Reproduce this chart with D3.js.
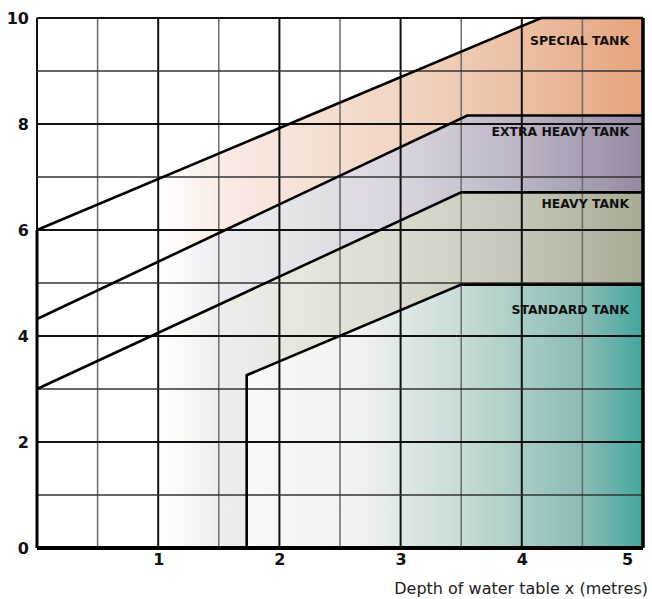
<!DOCTYPE html>
<html>
<head>
<meta charset="utf-8">
<script src="https://cdn.jsdelivr.net/npm/d3@7"></script>
<style>
  html, body { margin: 0; padding: 0; background: #fff; }
  svg { display: block; }
</style>
</head>
<body>
<svg id="chart" width="652" height="599"></svg>
<script>
// Tank class boundaries: upper edge of each band, as [depth x (m), value] points
const standardTop   = [[1.73, 0], [1.73, 3.26], [3.5, 4.97], [5, 4.97]];
const heavyTop      = [[0, 3], [3.5, 6.71], [5, 6.71]];
const extraHeavyTop = [[0, 4.32], [3.55, 8.16], [5, 8.16]];
const specialTop    = [[0, 6], [4.16, 10], [5, 10]];

const bandNames = ["STANDARD TANK", "HEAVY TANK", "EXTRA HEAVY TANK", "SPECIAL TANK"];
// vertical anchor of each band's label (value units)
const bandLabelY = [4.49, 6.49, 7.85, 9.58];

const xTicks = [1, 2, 3, 4, 5];
const yTicks = [0, 2, 4, 6, 8, 10];
const xTitle = "Depth of water table x (metres)";

const x = d3.scaleLinear().domain([0, 5]).range([37, 643]);
const y = d3.scaleLinear().domain([0, 10]).range([548, 18]);

const svg = d3.select("#chart");
const defs = svg.append("defs");
const FONT = "'DejaVu Sans', Verdana, sans-serif";

// lower edge of each band is the upper edge of the band below it
const bands = [
  { name: bandNames[0], lower: [[1.73, 0], [5, 0]], upper: standardTop, labelY: bandLabelY[0],
    stops: [[1.73, "#f9f9f7"], [2.6, "#f1f3f1"], [3, "#e0e9e7"], [3.5, "#c8dbd8"], [4, "#a9cbc6"], [4.5, "#8cbcb6"], [5, "#44a69e"]] },
  { name: bandNames[1], lower: [[0, 0]].concat(standardTop), upper: heavyTop, labelY: bandLabelY[1],
    stops: [[1, "#ffffff"], [1.5, "#efefea"], [3, "#dadbd0"], [4, "#c4c5b5"], [5, "#a8aa95"]] },
  { name: bandNames[2], lower: heavyTop, upper: extraHeavyTop, labelY: bandLabelY[2],
    stops: [[1, "#ffffff"], [1.5, "#efedf2"], [3, "#d9d4de"], [4, "#bcb3c4"], [5, "#968aa2"]] },
  { name: bandNames[3], lower: extraHeavyTop, upper: specialTop, labelY: bandLabelY[3],
    stops: [[1, "#ffffff"], [1.5, "#f9ece5"], [3, "#f1d5c4"], [4, "#ecbfa3"], [5, "#e6a47e"]] }
];

bands.forEach((b, i) => {
  const x0 = b.stops[0][0], x1 = b.stops[b.stops.length - 1][0];
  const g = defs.append("linearGradient")
    .attr("id", "band" + i)
    .attr("gradientUnits", "userSpaceOnUse")
    .attr("x1", x(x0)).attr("x2", x(x1))
    .attr("y1", 0).attr("y2", 0);
  b.stops.forEach(s => {
    g.append("stop")
      .attr("offset", (s[0] - x0) / (x1 - x0))
      .attr("stop-color", s[1]);
  });
});

const line = d3.line().x(d => x(d[0])).y(d => y(d[1]));

// band fills
svg.append("g").selectAll("path")
  .data(bands)
  .join("path")
  .attr("d", b => line(b.lower.concat(b.upper.slice().reverse())) + "Z")
  .attr("fill", (b, i) => `url(#band${i})`)
  .attr("stroke", "none");

// grid
const grid = svg.append("g");
const vx = d3.range(0, 5.01, 0.5);
grid.selectAll("line.v")
  .data(vx)
  .join("line")
  .attr("class", "v")
  .attr("x1", d => x(d)).attr("x2", d => x(d))
  .attr("y1", y(0)).attr("y2", y(10))
  .attr("stroke", d => Number.isInteger(d) ? "#111" : "#6a6a6a")
  .attr("stroke-width", d => Number.isInteger(d) ? 2 : 1.5);
const hy = d3.range(1, 10.01, 1);
grid.selectAll("line.h")
  .data(hy)
  .join("line")
  .attr("class", "h")
  .attr("x1", x(0)).attr("x2", x(5))
  .attr("y1", d => y(d)).attr("y2", d => y(d))
  .attr("stroke", d => d % 2 === 0 ? "#111" : "#333")
  .attr("stroke-width", d => d % 2 === 0 ? 2 : 1.6);

// band boundaries
const edges = svg.append("g")
  .attr("fill", "none")
  .attr("stroke", "#000")
  .attr("stroke-linejoin", "miter");
edges.selectAll("path.b")
  .data([standardTop, heavyTop, extraHeavyTop, specialTop])
  .join("path")
  .attr("class", "b")
  .attr("d", line)
  .attr("stroke-width", 2.6);
// outer frame: left edge up to the special band, right edge, baseline
edges.append("path").attr("d", line([[0, 0], [0, specialTop[0][1]]])).attr("stroke-width", 3);
edges.append("path").attr("d", line([[5, 0], [5, 10]])).attr("stroke-width", 3.5);
edges.append("path").attr("d", line([[0, 0], [5, 0]])).attr("stroke-width", 4);

// band labels
svg.append("g").selectAll("text")
  .data(bands)
  .join("text")
  .attr("x", x(5) - 14)
  .attr("y", b => y(b.labelY))
  .attr("dy", "0.35em")
  .attr("text-anchor", "end")
  .attr("font-family", FONT)
  .attr("font-weight", "bold")
  .attr("font-size", 12.4)
  .attr("fill", "#111")
  .text(b => b.name);

// axes
const yAxis = svg.append("g")
  .attr("transform", `translate(${x(0)},0)`)
  .call(d3.axisLeft(y).tickValues(yTicks).tickSize(0).tickPadding(8).tickFormat(d3.format("d")));
yAxis.select(".domain").remove();
yAxis.selectAll("text")
  .attr("font-family", FONT)
  .attr("font-weight", "bold")
  .attr("font-size", 16)
  .attr("fill", "#111");

const xAxis = svg.append("g")
  .attr("transform", `translate(0,${y(0)})`)
  .call(d3.axisBottom(x).tickValues(xTicks).tickSize(0).tickPadding(6).tickFormat(d3.format("d")));
xAxis.select(".domain").remove();
xAxis.selectAll("text")
  .attr("font-family", FONT)
  .attr("font-weight", "bold")
  .attr("font-size", 16)
  .attr("fill", "#111")
  .attr("dx", d => d === 5 ? -16 : 0);

svg.append("text")
  .attr("x", 648)
  .attr("y", 594)
  .attr("text-anchor", "end")
  .attr("font-family", FONT)
  .attr("font-size", 16)
  .attr("fill", "#222")
  .text(xTitle);
</script>
</body>
</html>
